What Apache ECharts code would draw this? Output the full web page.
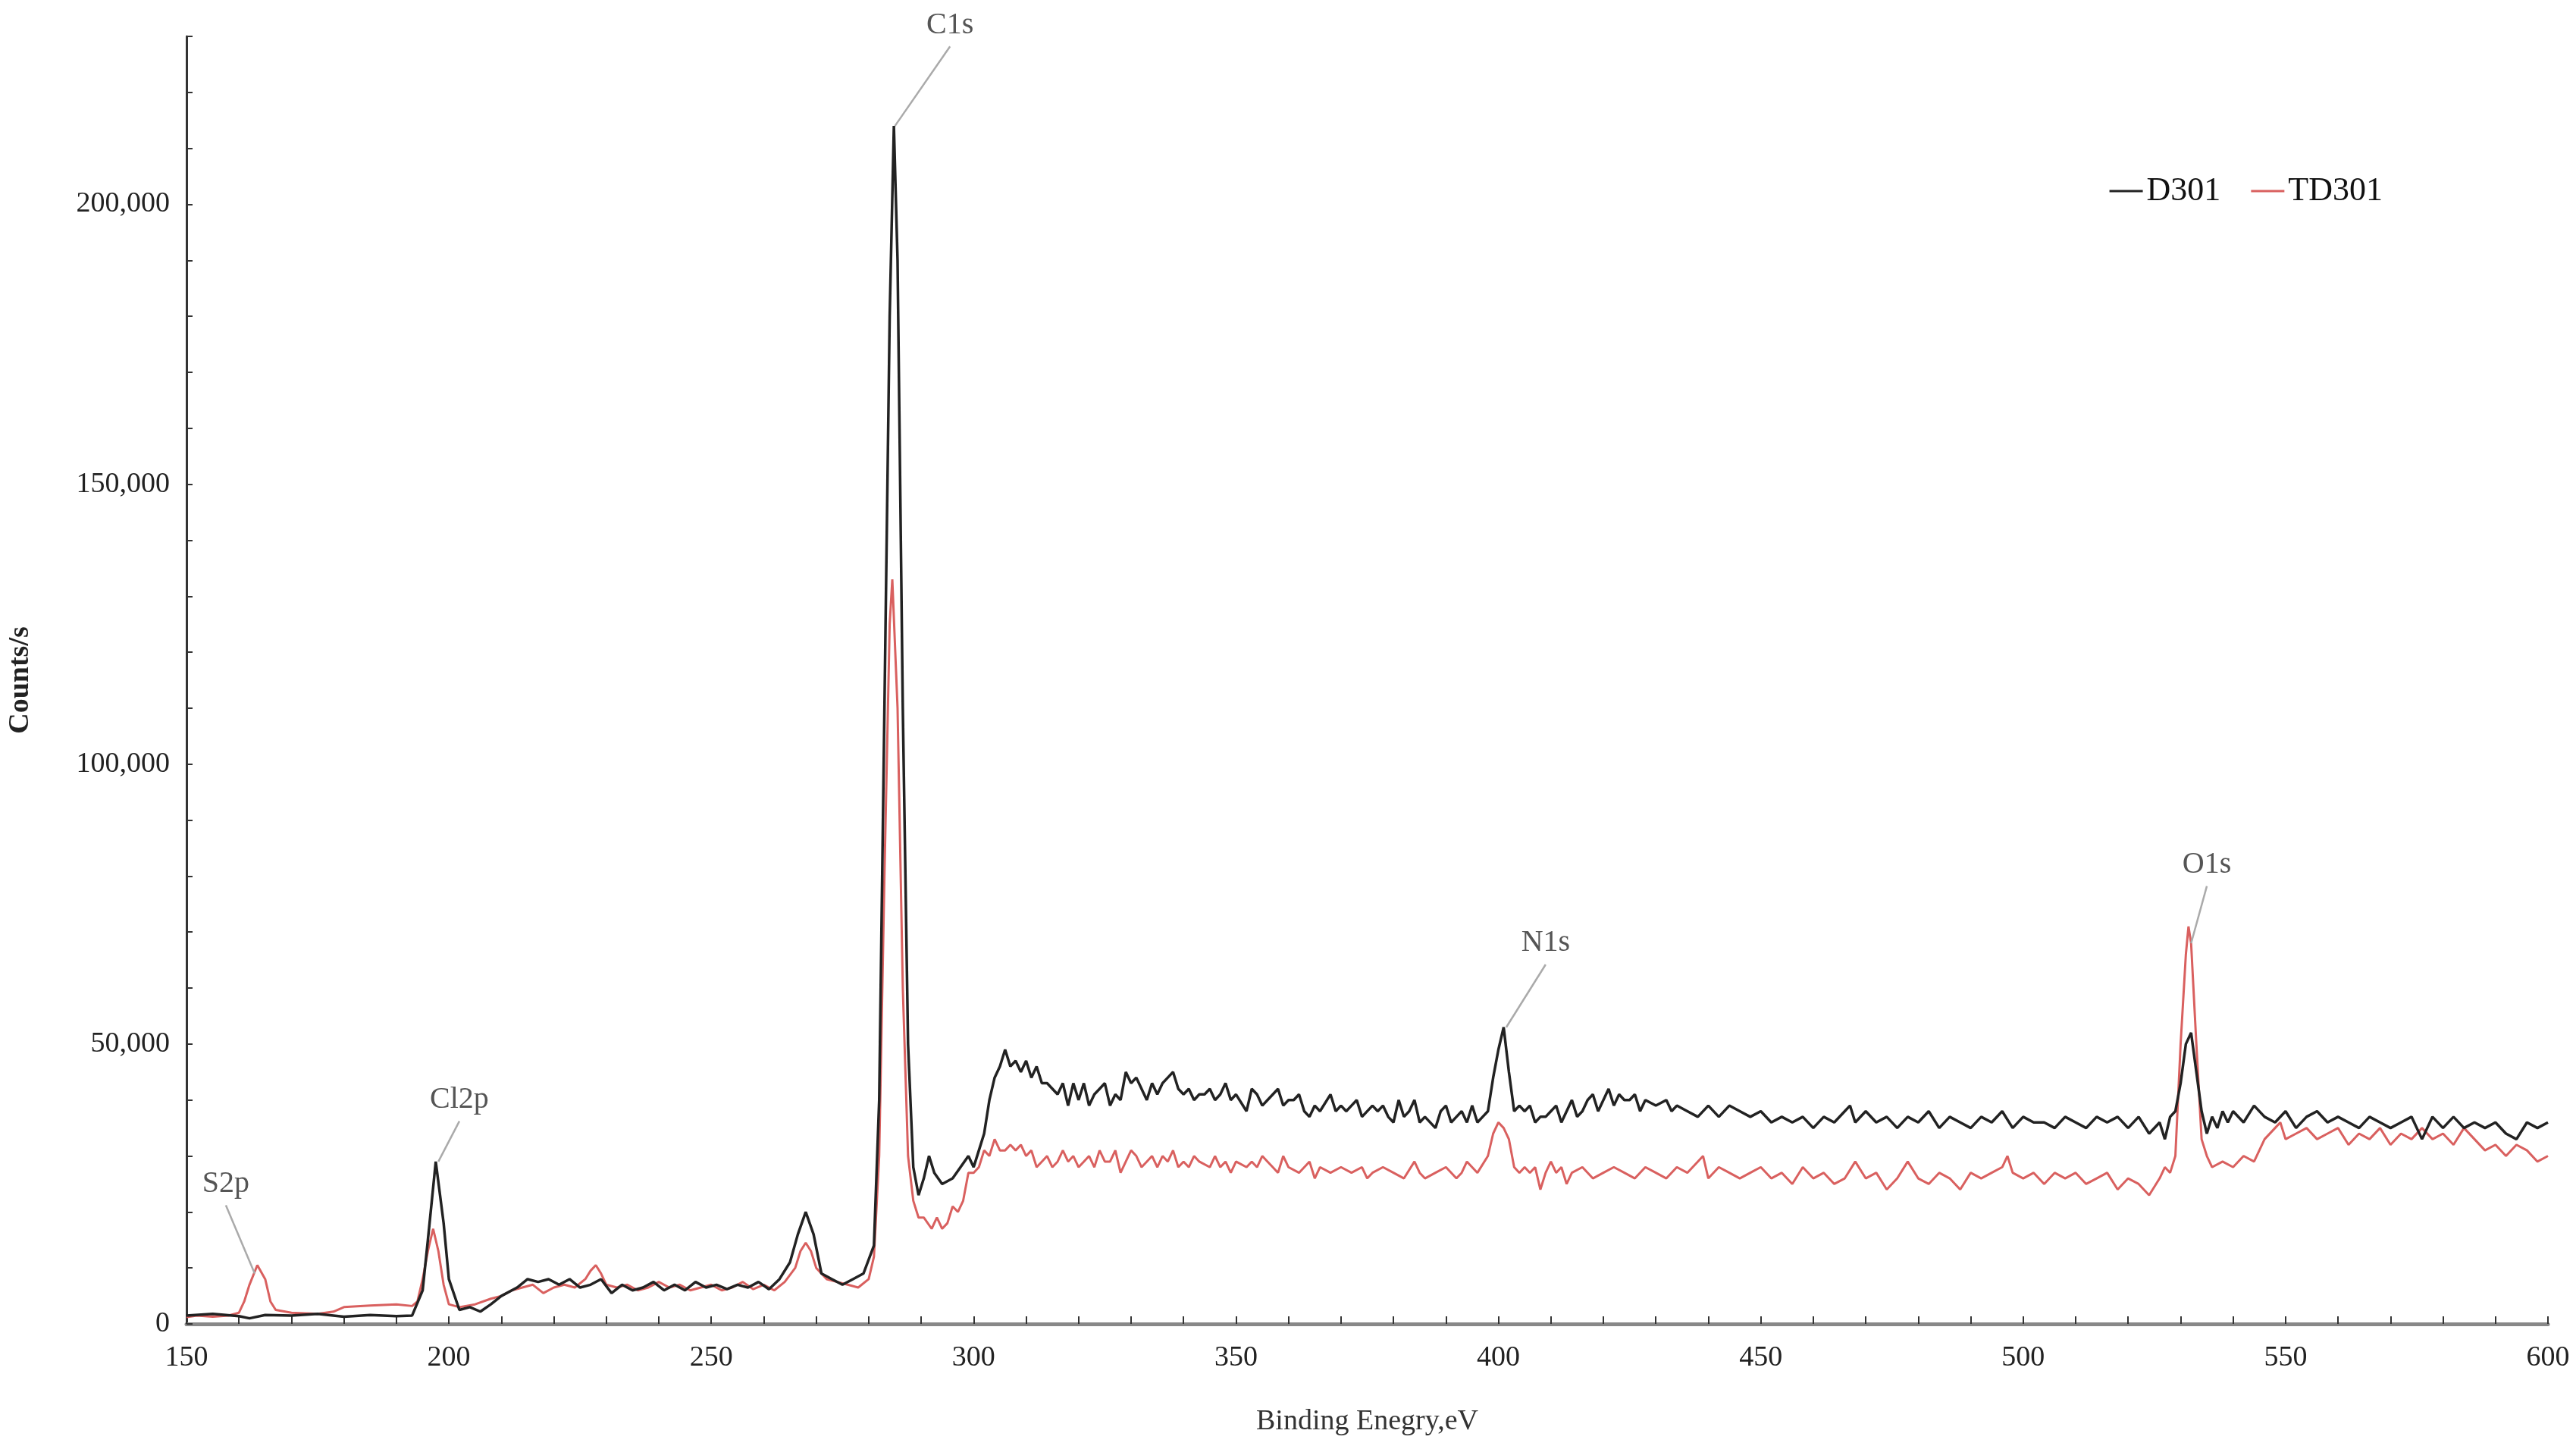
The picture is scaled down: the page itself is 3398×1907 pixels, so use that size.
<!DOCTYPE html>
<html lang="en">
<head>
<meta charset="UTF-8">
<title>XPS</title>
<script src="https://cdn.jsdelivr.net/npm/echarts@6/dist/echarts.min.js"></script>
<style>html,body{margin:0;padding:0;background:#fff}#main{width:3398px;height:1907px}</style>
</head>
<body>
<div id="main"></div>
<script>
// binding energy (eV) -> counts/s in thousands
const d301 = [[150,1.5],[155,1.8],[160,1.4],[162,1.0],[165,1.6],[170,1.5],[175,1.8],[180,1.3],[185,1.6],[190,1.4],[193,1.5],[195,6],[196,15],[197.5,29],[199,18],[200,8],[202,2.5],[204,3],[206,2.2],[208,3.5],[210,5],[213,6.5],[215,8],[217,7.5],[219,8],[221,7],[223,8],[225,6.5],[227,7],[229,8],[231,5.5],[233,7],[235,6],[237,6.5],[239,7.5],[241,6],[243,7],[245,6],[247,7.5],[249,6.5],[251,7],[253,6.2],[255,7],[257,6.5],[259,7.5],[261,6.2],[263,8],[265,11],[266.5,16],[268,20],[269.5,16],[271,9],[273,8],[275,7],[277,8],[279,9],[281,14],[282,40],[283,110],[284,180],[284.8,214],[285.5,190],[286.5,110],[287.5,50],[288.5,28],[289.5,23],[290.5,26],[291.5,30],[292.5,27],[294,25],[296,26],[297.5,28],[299,30],[300,28],[301,31],[302,34],[303,40],[304,44],[305,46],[306,49],[307,46],[308,47],[309,45],[310,47],[311,44],[312,46],[313,43],[314,43],[316,41],[317,43],[318,39],[319,43],[320,40],[321,43],[322,39],[323,41],[324,42],[325,43],[326,39],[327,41],[328,40],[329,45],[330,43],[331,44],[332,42],[333,40],[334,43],[335,41],[336,43],[337,44],[338,45],[339,42],[340,41],[341,42],[342,40],[343,41],[344,41],[345,42],[346,40],[347,41],[348,43],[349,40],[350,41],[352,38],[353,42],[354,41],[355,39],[356,40],[358,42],[359,39],[360,40],[361,40],[362,41],[363,38],[364,37],[365,39],[366,38],[368,41],[369,38],[370,39],[371,38],[372,39],[373,40],[374,37],[376,39],[377,38],[378,39],[379,37],[380,36],[381,40],[382,37],[383,38],[384,40],[385,36],[386,37],[388,35],[389,38],[390,39],[391,36],[392,37],[393,38],[394,36],[395,39],[396,36],[397,37],[398,38],[399,44],[400,49],[401,53],[402,45],[403,38],[404,39],[405,38],[406,39],[407,36],[408,37],[409,37],[410,38],[411,39],[412,36],[413,38],[414,40],[415,37],[416,38],[417,40],[418,41],[419,38],[420,40],[421,42],[422,39],[423,41],[424,40],[425,40],[426,41],[427,38],[428,40],[430,39],[432,40],[433,38],[434,39],[436,38],[438,37],[440,39],[442,37],[444,39],[446,38],[448,37],[450,38],[452,36],[454,37],[456,36],[458,37],[460,35],[462,37],[464,36],[466,38],[467,39],[468,36],[470,38],[472,36],[474,37],[476,35],[478,37],[480,36],[482,38],[484,35],[486,37],[488,36],[490,35],[492,37],[494,36],[496,38],[498,35],[500,37],[502,36],[504,36],[506,35],[508,37],[510,36],[512,35],[514,37],[516,36],[518,37],[520,35],[522,37],[524,34],[526,36],[527,33],[528,37],[529,38],[530,43],[531,50],[532,52],[533,45],[534,38],[535,34],[536,37],[537,35],[538,38],[539,36],[540,38],[542,36],[544,39],[546,37],[548,36],[550,38],[552,35],[554,37],[556,38],[558,36],[560,37],[562,36],[564,35],[566,37],[568,36],[570,35],[572,36],[574,37],[576,33],[578,37],[580,35],[582,37],[584,35],[586,36],[588,35],[590,36],[592,34],[594,33],[596,36],[598,35],[600,36]];

const td301 = [[150,1.2],[152,1.5],[155,1.3],[158,1.5],[160,2],[161,4],[162,7],[163.5,10.5],[165,8],[166,4],[167,2.5],[170,2],[175,1.8],[178,2.2],[180,3],[185,3.3],[190,3.5],[193,3.2],[194,4],[195,8],[196,13],[197,17],[198,13],[199,7],[200,3.5],[202,3],[205,3.5],[208,4.5],[210,5],[212,6],[214,6.5],[216,7],[218,5.5],[220,6.5],[222,7],[224,6.5],[226,8],[227,9.5],[228,10.5],[229,9],[230,7],[232,6.5],[234,7],[236,6],[238,6.5],[240,7.5],[242,6.5],[244,7],[246,6],[248,6.5],[250,7],[252,6],[254,6.5],[256,7.5],[258,6.2],[260,7],[262,6],[264,7.5],[266,10],[267,13],[268,14.5],[269,13],[270,10],[272,8],[274,7.5],[276,7],[278,6.5],[280,8],[281,12],[282,30],[283,80],[284,125],[284.5,133],[285.5,110],[286.5,60],[287.5,30],[288.5,22],[289.5,19],[290.5,19],[292,17],[293,19],[294,17],[295,18],[296,21],[297,20],[298,22],[299,27],[300,27],[301,28],[302,31],[303,30],[304,33],[305,31],[306,31],[307,32],[308,31],[309,32],[310,30],[311,31],[312,28],[313,29],[314,30],[315,28],[316,29],[317,31],[318,29],[319,30],[320,28],[321,29],[322,30],[323,28],[324,31],[325,29],[326,29],[327,31],[328,27],[329,29],[330,31],[331,30],[332,28],[333,29],[334,30],[335,28],[336,30],[337,29],[338,31],[339,28],[340,29],[341,28],[342,30],[343,29],[345,28],[346,30],[347,28],[348,29],[349,27],[350,29],[352,28],[353,29],[354,28],[355,30],[356,29],[357,28],[358,27],[359,30],[360,28],[362,27],[364,29],[365,26],[366,28],[368,27],[370,28],[372,27],[374,28],[375,26],[376,27],[378,28],[380,27],[382,26],[384,29],[385,27],[386,26],[388,27],[390,28],[392,26],[393,27],[394,29],[396,27],[398,30],[399,34],[400,36],[401,35],[402,33],[403,28],[404,27],[405,28],[406,27],[407,28],[408,24],[409,27],[410,29],[411,27],[412,28],[413,25],[414,27],[416,28],[418,26],[420,27],[422,28],[424,27],[426,26],[428,28],[430,27],[432,26],[434,28],[436,27],[438,29],[439,30],[440,26],[442,28],[444,27],[446,26],[448,27],[450,28],[452,26],[454,27],[456,25],[458,28],[460,26],[462,27],[464,25],[466,26],[468,29],[470,26],[472,27],[474,24],[476,26],[478,29],[480,26],[482,25],[484,27],[486,26],[488,24],[490,27],[492,26],[494,27],[496,28],[497,30],[498,27],[500,26],[502,27],[504,25],[506,27],[508,26],[510,27],[512,25],[514,26],[516,27],[518,24],[520,26],[522,25],[524,23],[526,26],[527,28],[528,27],[529,30],[530,50],[531,66],[531.5,71],[532,68],[533,50],[534,33],[535,30],[536,28],[538,29],[540,28],[542,30],[544,29],[546,33],[548,35],[549,36],[550,33],[552,34],[554,35],[556,33],[558,34],[560,35],[562,32],[564,34],[566,33],[568,35],[570,32],[572,34],[574,33],[576,35],[578,33],[580,34],[582,32],[584,35],[586,33],[588,31],[590,32],[592,30],[594,32],[596,31],[598,29],[600,30]];

// peak labels: text, peak x, peak y (thousands), label offset x, offset y (data units)
const peakNames = ['S2p', 'Cl2p', 'C1s', 'N1s', 'O1s'];
const peakAt = [[163, 9], [198, 29], [285, 214], [401.5, 53], [532, 68]];
const labelAt = [[157.5, 25], [202, 40], [295.5, 232], [409, 68], [535, 82]];

const chart = echarts.init(document.getElementById('main'));
const serif = 'Liberation Serif';

const option = {
    animation: false,
    grid: {left: 240, right: 37, top: 48, bottom: 161},
    legend: {
        right: 250, top: 225, itemWidth: 44, itemHeight: 3, itemGap: 40,
        icon: 'rect',
        textStyle: {fontFamily: serif, fontSize: 44, color: '#111'},
        data: ['D301', 'TD301']
    },
    xAxis: {
        type: 'value', min: 150, max: 600, interval: 10,
        name: 'Binding Enegry,eV', nameLocation: 'middle', nameGap: 110,
        nameTextStyle: {fontFamily: serif, fontSize: 38, color: '#333'},
        axisLine: {lineStyle: {color: '#888', width: 5}},
        axisTick: {inside: true, length: 10, lineStyle: {color: '#333', width: 2}},
        axisLabel: {
            fontFamily: serif, fontSize: 38, color: '#222', margin: 26,
            formatter: v => (v % 50 === 0 ? String(v) : '')
        },
        splitLine: {show: false}
    },
    yAxis: {
        type: 'value', min: 0, max: 230, interval: 10,
        name: 'Counts/s', nameLocation: 'middle', nameGap: 200, nameRotate: 90,
        nameTextStyle: {fontFamily: serif, fontSize: 38, color: '#222', fontWeight: 'bold'},
        axisLine: {show: true, lineStyle: {color: '#333', width: 3}},
        axisTick: {inside: true, length: 8, lineStyle: {color: '#333', width: 2}},
        axisLabel: {
            fontFamily: serif, fontSize: 38, color: '#222', margin: 22,
            formatter: v => (v % 50 === 0 ? (v === 0 ? '0' : (v * 1000).toLocaleString('en-US')) : '')
        },
        splitLine: {show: false}
    },
    series: [
        {name: 'D301', type: 'line', data: d301, symbol: 'none', color: '#222',
         lineStyle: {width: 3.5, color: '#222'}, z: 3},
        {name: 'TD301', type: 'line', data: td301, symbol: 'none', color: '#d9605f',
         lineStyle: {width: 3, color: '#d9605f'}, z: 2}
    ]
};
chart.setOption(option);

// annotation labels with leader lines
const g = [];
peakNames.forEach((name, i) => {
    const p = chart.convertToPixel({gridIndex: 0}, peakAt[i]);
    const t = chart.convertToPixel({gridIndex: 0}, labelAt[i]);
    g.push({type: 'line', shape: {x1: p[0], y1: p[1], x2: t[0], y2: t[1] + 28},
            style: {stroke: '#aaa', lineWidth: 2.5}, z: 10});
    g.push({type: 'text', x: t[0], y: t[1] + 20,
            style: {text: name, fill: '#555', font: '40px "' + serif + '"', textAlign: 'center', textVerticalAlign: 'bottom'},
            z: 10});
});
chart.setOption({graphic: g});
</script>
</body>
</html>
